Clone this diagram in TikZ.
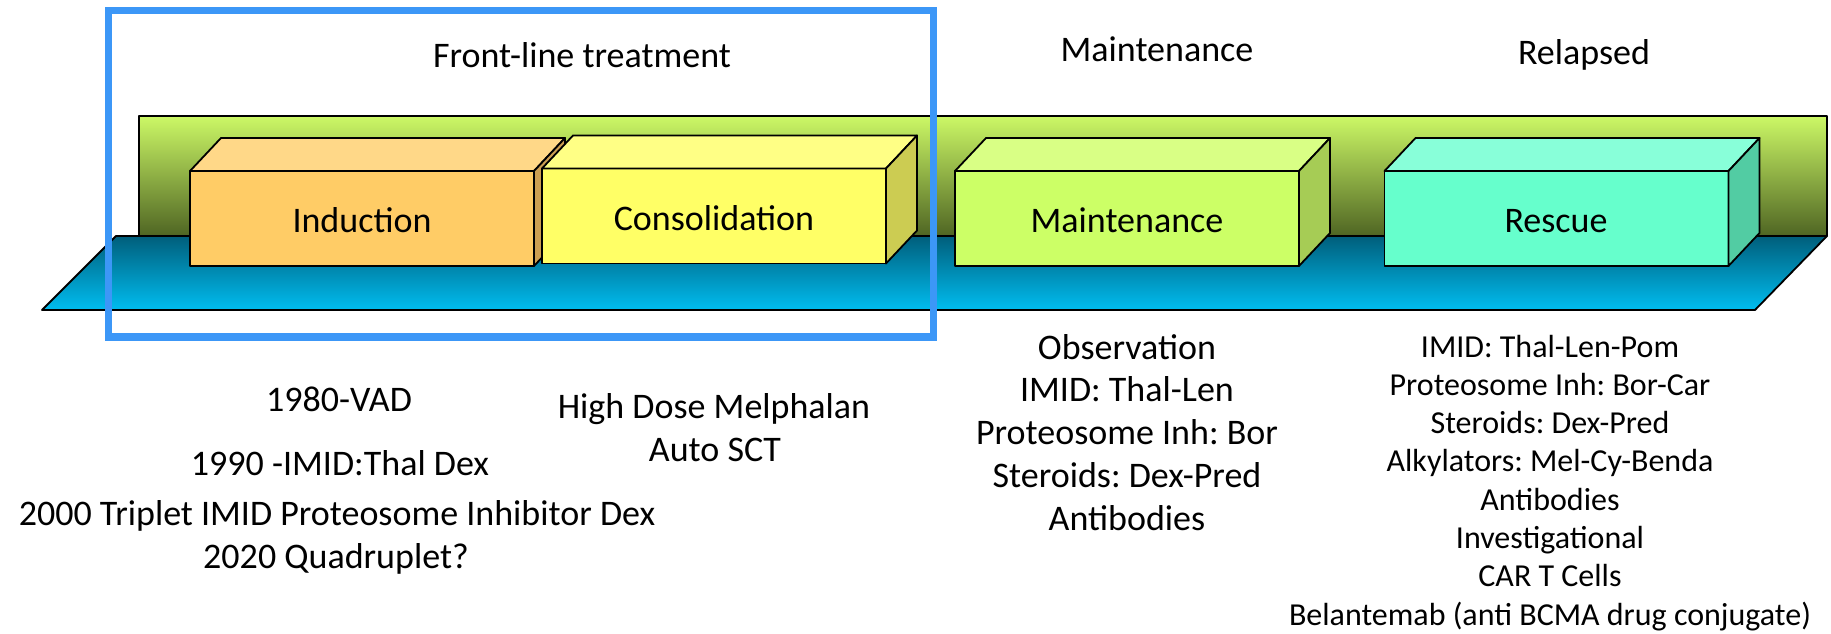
\documentclass[tikz,border=0pt]{standalone}
\usepackage{fontspec}
\setmainfont{Carlito}
\frenchspacing

\definecolor{frameblue}{HTML}{3C97F7}
\definecolor{walltop}{HTML}{CCF866}
\definecolor{wallmid}{HTML}{AFD55A}
\definecolor{wallbot}{HTML}{4F6523}
\definecolor{decktop}{HTML}{005E7B}
\definecolor{deckbot}{HTML}{00BDF0}
% box face colours: front / top / side
\definecolor{indF}{HTML}{FFCC66}\definecolor{indT}{HTML}{FFD888}\definecolor{indS}{HTML}{CC9F52}
\definecolor{conF}{HTML}{FFFF66}\definecolor{conT}{HTML}{FFFF85}\definecolor{conS}{HTML}{CCCC52}
\definecolor{maiF}{HTML}{CCFF66}\definecolor{maiT}{HTML}{D9FF85}\definecolor{maiS}{HTML}{A6CC55}
\definecolor{resF}{HTML}{66FFCC}\definecolor{resT}{HTML}{88FFD9}\definecolor{resS}{HTML}{52CCA3}

\tikzset{
  edge/.style={draw=black, line width=1.8pt, line join=round},
  slabfront/.style={edge, rectangle, inner sep=0pt, outer sep=0pt,
    minimum width=344pt, minimum height=95pt},
  bigtext/.style={anchor=base, inner sep=0pt, font=\fontsize{36}{43}\selectfont},
  smalltext/.style={anchor=base, inner sep=0pt, font=\fontsize{32}{38}\selectfont},
}

% three-face block: front node name, front colour, top colour, side colour
\newcommand\drawslab[4]{%
  \path[edge, fill=#3] (#1.north west) -- ++(31,-33) -- ([shift={(31,-33)}]#1.north east)
        -- (#1.north east) -- cycle;
  \path[edge, fill=#4] (#1.north east) -- ++(31,-33) -- ([shift={(31,-33)}]#1.south east)
        -- (#1.south east) -- cycle;
}

\begin{document}
\begin{tikzpicture}[x=1pt, y=-1pt]
  \useasboundingbox (0,0) rectangle (1831,634);

  % back wall
  \path[edge, top color=walltop, middle color=wallmid, bottom color=wallbot]
    (139,116) rectangle (1827,236);
  % floor
  \path[edge, top color=decktop, bottom color=deckbot]
    (116,236) -- (1827,236) -- (1755,310) -- (42,310) -- cycle;

  % blocks
  \node[slabfront, fill=indF] (ind) at (362,218.5) {};
  \drawslab{ind}{indF}{indT}{indS}
  \node[slabfront, fill=conF] (con) at (714,216) {};
  \drawslab{con}{conF}{conT}{conS}
  \node[slabfront, fill=maiF] (mai) at (1127,218.5) {};
  \drawslab{mai}{maiF}{maiT}{maiS}
  \node[slabfront, fill=resF] (res) at (1556.5,218.5) {};
  \drawslab{res}{resF}{resT}{resS}

  \node[bigtext] (indlab) at (362,232) {Induction};
  \node[bigtext] (conlab) at (714,230) {Consolidation};
  \node[bigtext] (mailab) at (1127,232) {Maintenance};
  \node[bigtext] (reslab) at (1556,232) {Rescue};

  % front-line frame
  \draw[frameblue, line width=7.5pt] (108.5,10.5) rectangle (933.5,337);

  % phase headings
  \node[bigtext] (hfront) at (582,67) {Front-line treatment};
  \node[bigtext] (hmaint) at (1157,62) {Maintenance};
  \node[bigtext] (hrel)   at (1584,65) {Relapsed};

  % induction regimens
  \node[bigtext] (i1) at (339,411) {1980-VAD};
  \node[bigtext] (i2) at (340,475) {1990 -IMID:Thal Dex};
  \node[bigtext] (i3) at (337,525) {2000 Triplet IMID Proteosome Inhibitor Dex};
  \node[bigtext] (i4) at (336,568) {2020 Quadruplet?};

  % consolidation
  \node[bigtext] (c1) at (714,418) {High Dose Melphalan};
  \node[bigtext] (c2) at (715,461) {Auto SCT};

  % maintenance options
  \foreach \t [count=\i from 0] in {Observation, IMID: Thal-Len,
      Proteosome Inh: Bor, Steroids: Dex-Pred, Antibodies}
    \node[bigtext] (m\i) at (1127,359+42.75*\i) {\t};

  % rescue options
  \foreach \t [count=\i from 0] in {IMID: Thal-Len-Pom, Proteosome Inh: Bor-Car,
      Steroids: Dex-Pred, Alkylators: Mel-Cy-Benda, Antibodies, Investigational,
      CAR T Cells, Belantemab (anti BCMA drug conjugate)}
    \node[smalltext] (r\i) at (1550,357+38.3*\i) {\t};
\end{tikzpicture}
\end{document}
